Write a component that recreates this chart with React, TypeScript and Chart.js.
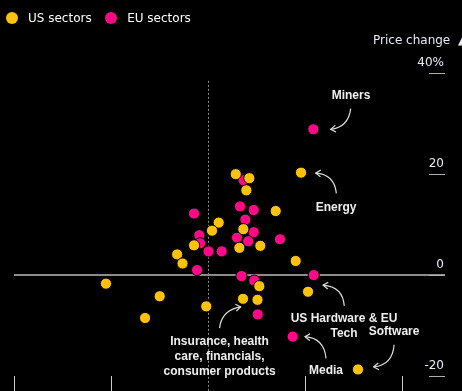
import React, { useEffect, useRef } from 'react';
import { Chart, registerables } from 'chart.js';

Chart.register(...registerables);

const seriesNames = ['US sectors', 'EU sectors'];
const seriesColors = ['#ffc20a', '#ff0a86'];

const usX = [2.86, 4.26, 3.95, 9.59, 6.98, 1.10, 0.41, 3.64, -1.44, 3.23, 5.39, -3.18, -2.63, 9.04, 5.29, 10.31, 3.61, 5.10, -0.18, -10.52, -4.98, -6.49, 15.46];
const usY = [20.0, 19.2, 16.8, 20.3, 12.7, 10.4, 8.8, 9.1, 5.9, 5.4, 5.8, 4.1, 2.3, 2.8, -2.2, -3.3, -4.7, -4.9, -6.2, -1.7, -4.2, -8.5, -18.7];

const euX = [10.86, 3.66, -1.44, 3.30, 4.71, 3.85, -0.90, 4.71, 2.99, 4.14, 7.42, 0.05, 1.41, -1.13, 3.45, 4.77, 10.90, 5.12, 8.73, -0.82];
const euY = [28.9, 18.8, 12.2, 13.6, 12.9, 11.0, 7.9, 8.5, 7.4, 6.7, 7.1, 4.7, 4.7, 1.0, -0.2, -1.1, 0.0, -7.8, -12.2, 6.3];

const yTickValues = [-20, 0, 20, 40];
const yTickLabels = ['-20', '0', '20', '40%'];
const xTickValues = [-20, -10, 0, 10, 20];
const yAxisTitle = 'Price change  ▲';

const annotations = [
  { lines: ['Miners'], text: [14.74, 35.5], from: [14.71, 33.0], ctrl: [14.46, 29.3], to: [12.65, 28.9] },
  { lines: ['Energy'], text: [13.2, 13.3], from: [13.23, 16.2], ctrl: [13.02, 20.0], to: [11.1, 20.2] },
  { lines: ['US Hardware & EU', 'Tech'], text: [14.02, -8.7], from: [14.05, -6.1], ctrl: [13.89, -2.3], to: [11.86, -2.0] },
  { lines: ['Software'], text: [19.18, -11.2], from: [19.18, -13.8], ctrl: [19.04, -17.8], to: [17.08, -18.2] },
  { lines: ['Media'], text: [12.16, -19.0], from: [12.16, -16.5], ctrl: [11.99, -12.5], to: [10.0, -12.2] },
  { lines: ['Insurance, health', 'care, financials,', 'consumer products'], text: [1.19, -13.2], from: [1.19, -10.5], ctrl: [1.41, -6.9], to: [3.37, -6.3] },
];

const decorPlugin = {
  id: 'decor',
  beforeDatasetsDraw(chart: any) {
    const { ctx, chartArea, scales } = chart;
    const x = scales.x, y = scales.y;
    ctx.save();
    const x0 = Math.round(x.getPixelForValue(0)) + 0.5;
    ctx.strokeStyle = '#8a8a8a';
    ctx.lineWidth = 1;
    ctx.setLineDash([2, 2]);
    ctx.beginPath();
    ctx.moveTo(x0, y.getPixelForValue(38.5));
    ctx.lineTo(x0, chart.height);
    ctx.stroke();
    ctx.setLineDash([]);
    const y0 = y.getPixelForValue(0);
    ctx.strokeStyle = '#8c8c8c';
    ctx.lineWidth = 2;
    ctx.beginPath();
    ctx.moveTo(chartArea.left, y0);
    ctx.lineTo(chartArea.right, y0);
    ctx.stroke();
    ctx.restore();
  },
  afterDraw(chart: any) {
    const { ctx, chartArea, scales } = chart;
    const x = scales.x, y = scales.y;
    ctx.save();
    ctx.font = '12px "DejaVu Sans"';
    ctx.textAlign = 'right';
    ctx.textBaseline = 'alphabetic';
    yTickValues.forEach((v, i) => {
      const py = Math.round(y.getPixelForValue(v)) + 0.5;
      ctx.strokeStyle = '#b0b0b0';
      ctx.lineWidth = 1;
      ctx.beginPath();
      ctx.moveTo(chartArea.right - 16, py);
      ctx.lineTo(chartArea.right, py);
      ctx.stroke();
      ctx.fillStyle = '#e4ecf4';
      ctx.fillText(yTickLabels[i], chartArea.right - 1, py - 8);
    });
    ctx.textAlign = 'left';
    ctx.fillStyle = '#e4ecf4';
    ctx.fillText(yAxisTitle, chartArea.right - 72, 44);

    ctx.font = 'bold 12px "Liberation Sans"';
    ctx.textAlign = 'center';
    ctx.textBaseline = 'middle';
    ctx.fillStyle = '#eeeeee';
    annotations.forEach((a) => {
      const tx = x.getPixelForValue(a.text[0]);
      const ty = y.getPixelForValue(a.text[1]);
      a.lines.forEach((line, i) => ctx.fillText(line, tx, ty + i * 15));
      const fx = x.getPixelForValue(a.from[0]), fy = y.getPixelForValue(a.from[1]);
      const cx = x.getPixelForValue(a.ctrl[0]), cy = y.getPixelForValue(a.ctrl[1]);
      const ex = x.getPixelForValue(a.to[0]), ey = y.getPixelForValue(a.to[1]);
      ctx.strokeStyle = '#dddddd';
      ctx.lineWidth = 1.2;
      ctx.beginPath();
      ctx.moveTo(fx, fy);
      ctx.quadraticCurveTo(cx, cy, ex, ey);
      ctx.stroke();
      const ang = Math.atan2(ey - cy, ex - cx);
      const len = 6;
      ctx.beginPath();
      ctx.moveTo(ex - len * Math.cos(ang - 0.6), ey - len * Math.sin(ang - 0.6));
      ctx.lineTo(ex, ey);
      ctx.lineTo(ex - len * Math.cos(ang + 0.6), ey - len * Math.sin(ang + 0.6));
      ctx.stroke();
    });
    ctx.restore();
  },
};

export default function App() {
  const canvasRef = useRef<HTMLCanvasElement | null>(null);

  useEffect(() => {
    const canvas = canvasRef.current;
    if (!canvas) return;
    const toPoints = (xs: number[], ys: number[]) => xs.map((v, i) => ({ x: v, y: ys[i] }));
    const chart = new Chart(canvas, {
      type: 'scatter',
      data: {
        datasets: [
          {
            label: seriesNames[0],
            data: toPoints(usX, usY),
            backgroundColor: seriesColors[0],
            borderColor: '#000000',
            borderWidth: 1,
            pointRadius: 5.6,
          },
          {
            label: seriesNames[1],
            data: toPoints(euX, euY),
            backgroundColor: seriesColors[1],
            borderColor: '#000000',
            borderWidth: 1,
            pointRadius: 5.6,
          },
        ],
      },
      options: {
        responsive: false,
        animation: false,
        events: [],
        layout: { padding: { left: 14, right: 17, top: 43, bottom: 0 } },
        plugins: { legend: { display: false }, tooltip: { enabled: false } },
        scales: {
          x: {
            type: 'linear',
            min: -20,
            max: 24.43,
            afterBuildTicks: (scale: any) => {
              scale.ticks = xTickValues.map((v) => ({ value: v }));
            },
            ticks: { display: false },
            border: { display: false },
            grid: {
              drawOnChartArea: false,
              drawTicks: true,
              tickLength: 15,
              color: (c: any) => (c.tick && c.tick.value === 0 ? 'rgba(0,0,0,0)' : '#cccccc'),
            },
          },
          y: {
            type: 'linear',
            display: false,
            min: -20,
            max: 46,
          },
        },
      },
      plugins: [decorPlugin],
    });
    return () => chart.destroy();
  }, []);

  const dot = (c: string) => ({
    width: 12,
    height: 12,
    borderRadius: '50%',
    background: c,
    flex: '0 0 auto',
  });

  return (
    <div style={{ position: 'fixed', left: 0, top: 0, width: 462, height: 391, background: '#000', overflow: 'hidden' }}>
      <canvas ref={canvasRef} width={462} height={391} style={{ position: 'absolute', left: 0, top: 0 }} />
      <div
        style={{
          position: 'absolute',
          left: 5.5,
          top: 11.5,
          height: 12,
          display: 'flex',
          alignItems: 'center',
          fontFamily: '"DejaVu Sans"',
          fontSize: 12,
          color: '#ffffff',
          whiteSpace: 'nowrap',
        }}
      >
        <span style={dot(seriesColors[0])} />
        <span style={{ marginLeft: 10.5, marginRight: 13 }}>{seriesNames[0]}</span>
        <span style={dot(seriesColors[1])} />
        <span style={{ marginLeft: 10.5 }}>{seriesNames[1]}</span>
      </div>
    </div>
  );
}
